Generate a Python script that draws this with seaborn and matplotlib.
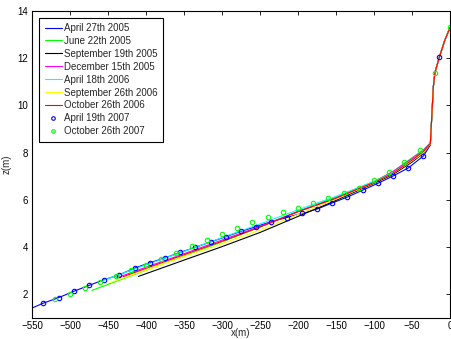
import matplotlib
matplotlib.use("Agg")
import matplotlib.pyplot as plt
import seaborn as sns

# ---------------- data ----------------
labels = ["April 27th 2005", "June 22th 2005", "September 19th 2005",
          "December 15th 2005", "April 18th 2006", "September 26th 2006",
          "October 26th 2006", "April 19th 2007", "October 26th 2007"]

top_x = [-22, -20, -14, -7, 0]
top_y = [10.8, 11.38, 12.05, 12.75, 13.3]

apr05_x = [-550, -535, -515, -495, -475, -455, -435, -415, -395, -375, -355, -335, -315,
           -295, -275, -255, -235, -215, -195, -175, -155, -135, -115, -95, -75, -55,
           -35, -26] + top_x
apr05_y = [1.42, 1.63, 1.86, 2.13, 2.38, 2.62, 2.83, 3.11, 3.34, 3.54, 3.78, 3.99, 4.22,
           4.44, 4.67, 4.87, 5.08, 5.25, 5.43, 5.61, 5.87, 6.12, 6.41, 6.70, 7.01, 7.35,
           7.86, 8.32] + top_y

jun05_x = [-471, -450, -400, -350, -300, -250, -200, -150, -100, -75, -50, -35, -26] + top_x
jun05_y = [2.17, 2.42, 3.02, 3.62, 4.22, 4.85, 5.52, 6.12, 6.78, 7.20, 7.78, 8.12, 8.42] + top_y

sep05_x = [-410, -350, -300, -250, -200, -150, -100, -75, -50, -35, -26] + top_x
sep05_y = [2.76, 3.45, 4.02, 4.62, 5.30, 5.98, 6.70, 7.08, 7.60, 7.98, 8.35] + top_y

dec05_x = [-440, -400, -350, -300, -250, -200, -150, -100, -75, -50, -35, -26] + top_x
dec05_y = [2.68, 3.15, 3.72, 4.30, 4.88, 5.50, 6.08, 6.76, 7.20, 7.75, 8.10, 8.40] + top_y

apr06_x = [-460, -400, -350, -300, -250, -200, -150, -100, -75, -50, -35, -26] + top_x
apr06_y = [2.55, 3.25, 3.82, 4.40, 4.98, 5.58, 6.15, 6.78, 7.15, 7.68, 8.05, 8.38] + top_y

sep06_x = [-447, -400, -350, -300, -250, -200, -150, -100, -75, -50, -35, -26] + top_x
sep06_y = [2.50, 3.03, 3.60, 4.15, 4.72, 5.38, 6.03, 6.73, 7.12, 7.65, 8.00, 8.36] + top_y

oct06_x = [-430, -400, -350, -300, -250, -200, -150, -100, -75, -50, -35, -26] + top_x
oct06_y = [2.75, 3.10, 3.68, 4.25, 4.85, 5.50, 6.07, 6.74, 7.13, 7.68, 8.05, 8.38] + top_y

apr07_x = [-535, -515, -495, -475, -455, -435, -415, -395, -375, -355, -335, -315, -295,
           -275, -255, -235, -215, -195, -175, -155, -135, -115, -95, -75, -55, -35, -14]
apr07_y = [1.63, 1.86, 2.13, 2.38, 2.62, 2.83, 3.11, 3.34, 3.54, 3.78, 3.99, 4.22, 4.44,
           4.67, 4.87, 5.08, 5.25, 5.43, 5.61, 5.87, 6.12, 6.41, 6.70, 7.01, 7.35, 7.86, 12.05]

oct07_x = [-520, -500, -480, -460, -440, -420, -400, -380, -360, -340, -320, -300, -280,
           -260, -240, -220, -200, -180, -160, -140, -120, -100, -80, -60, -40, -20, 0]
oct07_y = [1.82, 2.03, 2.27, 2.52, 2.76, 3.01, 3.26, 3.48, 3.74, 4.03, 4.30, 4.55, 4.81,
           5.06, 5.26, 5.47, 5.67, 5.87, 6.07, 6.27, 6.50, 6.83, 7.18, 7.62, 8.10, 11.38, 13.30]

x_ticks = list(range(-550, 1, 50))
y_ticks = [2, 4, 6, 8, 10, 12, 14]

# ---------------- style ----------------
sns.set_style("white")
plt.rcParams['font.family'] = ['Liberation Sans', 'DejaVu Sans']
plt.rcParams['axes.unicode_minus'] = True

fig = plt.figure(figsize=(4.51, 3.39), dpi=100)
ax = fig.add_axes([0.071, 0.062, 0.927, 0.906])

line_series = [
    (apr05_x, apr05_y, "#0000ff"),
    (jun05_x, jun05_y, "#00ff00"),
    (sep05_x, sep05_y, "#000000"),
    (dec05_x, dec05_y, "#ff00ff"),
    (apr06_x, apr06_y, "#00ffff"),
    (sep06_x, sep06_y, "#ffff00"),
    (oct06_x, oct06_y, "#ff0000"),
]
for (xs, ys, c), lab in zip(line_series, labels[:7]):
    sns.lineplot(x=xs, y=ys, ax=ax, color=c, lw=0.8, sort=False,
                 estimator=None, label=lab)

for xs, ys, c, lab in [(apr07_x, apr07_y, "#0000ff", labels[7]),
                       (oct07_x, oct07_y, "#00ff00", labels[8])]:
    sns.lineplot(x=xs, y=ys, ax=ax, color=c, sort=False, estimator=None,
                 linestyle='', marker='o', markersize=3.2, mfc='none',
                 mec=c, mew=0.8, label=lab)

ax.set_xlim(-550, 0)
ax.set_ylim(1, 14)
ax.set_xticks(x_ticks)
ax.set_yticks(y_ticks)
ax.tick_params(direction='in', length=3, width=0.6, labelsize=7, top=True,
               right=True, pad=3, colors='black')
ax.tick_params(axis='x', pad=2.5)
for s in ax.spines.values():
    s.set_visible(True)
    s.set_color('black')
    s.set_linewidth(0.8)
ax.set_xlabel("x(m)", fontsize=7, labelpad=-2.5)
ax.set_ylabel("z(m)", fontsize=7, labelpad=4)

leg = ax.legend(loc='upper left', bbox_to_anchor=(0.087, 0.948),
                bbox_transform=fig.transFigure, borderaxespad=0,
                fontsize=7, handlelength=1.75, handletextpad=0.25,
                labelspacing=0.3, borderpad=0.55, fancybox=False,
                framealpha=1, edgecolor='black', markerscale=0.8)
leg.get_frame().set_linewidth(0.8)

fig.savefig("out.png", dpi=100)
